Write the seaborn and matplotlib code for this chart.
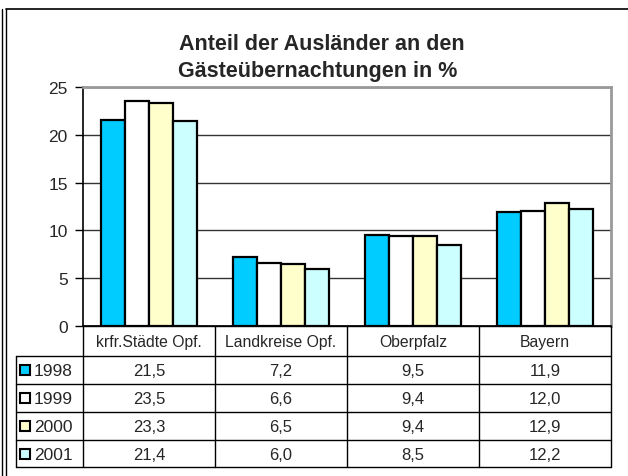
"""
Anteil der Ausländer an den Gästeübernachtungen - Balkendiagramm mit Datentabelle
"""
import numpy as np
import pandas as pd
import matplotlib.pyplot as plt
import seaborn as sns

# Daten aus der Vorlage
regionen = ['krfr.Städte Opf.', 'Landkreise Opf.', 'Oberpfalz', 'Bayern']
jahre = ['1998', '1999', '2000', '2001']
werte_1998 = [21.5, 7.2, 9.5, 11.9]
werte_1999 = [23.5, 6.6, 9.4, 12.0]
werte_2000 = [23.3, 6.5, 9.4, 12.9]
werte_2001 = [21.4, 6.0, 8.5, 12.2]
farben = ['#00CCFF', '#FFFFFF', '#FFFFCC', '#CCFFFF']
y_ticks = [0, 5, 10, 15, 20, 25]

W, H = 628, 477


def fx(px):
    return px / W


def fy(py):
    return 1 - py / H


def main():
    sns.set_style('white')
    plt.rcParams['font.family'] = ['Liberation Sans', 'DejaVu Sans']

    reihen = [werte_1998, werte_1999, werte_2000, werte_2001]
    df = pd.DataFrame({
        'Region': np.repeat(regionen, len(jahre)),
        'Jahr': jahre * len(regionen),
        'Wert': [reihen[j][i] for i in range(len(regionen)) for j in range(len(jahre))],
    })

    fig = plt.figure(figsize=(W / 100, H / 100), dpi=100)

    # Rahmen links (doppelt) und oben
    fig.add_artist(plt.Line2D([fx(2), fx(2)], [0, fy(10)], color='black', lw=1))
    fig.add_artist(plt.Line2D([fx(5.5), fx(5.5)], [0, fy(10)], color='black', lw=1))
    fig.add_artist(plt.Line2D([fx(5.5), 1], [fy(10), fy(10)], color='black', lw=1.2))

    # Diagrammfläche
    left, right, top, bottom = 83, 611, 88, 327
    ax = fig.add_axes([fx(left), fy(bottom), fx(right - left), (bottom - top) / H])
    sns.barplot(data=df, x='Region', y='Wert', hue='Jahr', order=regionen,
                hue_order=jahre, palette=farben, width=0.73, gap=0.0,
                edgecolor='black', linewidth=1.6, saturation=1, legend=False, ax=ax)
    ax.set_ylim(0, 25)
    ax.set_xlim(-0.5, len(regionen) - 0.5)
    ax.set_yticks(y_ticks)
    ax.set_yticklabels([str(t) for t in y_ticks], fontsize=12.5)
    ax.set_xticks([])
    ax.set_xlabel('')
    ax.set_ylabel('')
    ax.yaxis.grid(True, color='#333333', lw=1)
    ax.set_axisbelow(True)
    ax.tick_params(axis='y', length=6, width=1, color='black', left=True, pad=5)
    for side in ['top', 'right']:
        ax.spines[side].set_color('#999999')
        ax.spines[side].set_linewidth(2)
    ax.spines['left'].set_color('black')
    ax.spines['left'].set_linewidth(1.2)
    ax.spines['bottom'].set_color('black')
    ax.spines['bottom'].set_linewidth(1.2)

    fig.text(fx(322), fy(45), 'Anteil der Ausländer an den', ha='center', va='center',
             fontsize=15.5, fontweight='bold')
    fig.text(fx(318), fy(72), 'Gästeübernachtungen in %', ha='center', va='center',
             fontsize=15.5, fontweight='bold')

    # Datentabelle
    tab = fig.add_axes([0, 0, 1, 1], facecolor='none')
    tab.set_xlim(0, W)
    tab.set_ylim(H, 0)
    tab.axis('off')
    zeilen = [bottom, 357, 385, 413, 441, 468]
    spalten = [left + i * (right - left) / len(regionen) for i in range(len(regionen) + 1)]
    tab_left = 16
    kw = dict(color='black', lw=1)
    tab.plot([spalten[0], spalten[-1]], [zeilen[0], zeilen[0]], **kw)
    for yv in zeilen[1:]:
        tab.plot([tab_left, spalten[-1]], [yv, yv], **kw)
    for xv in spalten:
        tab.plot([xv, xv], [zeilen[0], zeilen[-1]], **kw)
    tab.plot([tab_left, tab_left], [zeilen[1], zeilen[-1]], **kw)

    for i, name in enumerate(regionen):
        tab.text((spalten[i] + spalten[i + 1]) / 2, (zeilen[0] + zeilen[1]) / 2 + 1, name,
                 ha='center', va='center', fontsize=11.3)
    for j, jahr in enumerate(jahre):
        ym = (zeilen[j + 1] + zeilen[j + 2]) / 2 + 1
        tab.add_patch(plt.Rectangle((20, ym - 6), 10, 10, facecolor=farben[j],
                                    edgecolor='black', lw=1.5))
        tab.text(34, ym, jahr, ha='left', va='center', fontsize=12.5)
        for i in range(len(regionen)):
            tab.text((spalten[i] + spalten[i + 1]) / 2, ym,
                     f'{reihen[j][i]:.1f}'.replace('.', ','),
                     ha='center', va='center', fontsize=12)

    fig.savefig('out.png', dpi=100)
    plt.close(fig)


if __name__ == '__main__':
    main()
